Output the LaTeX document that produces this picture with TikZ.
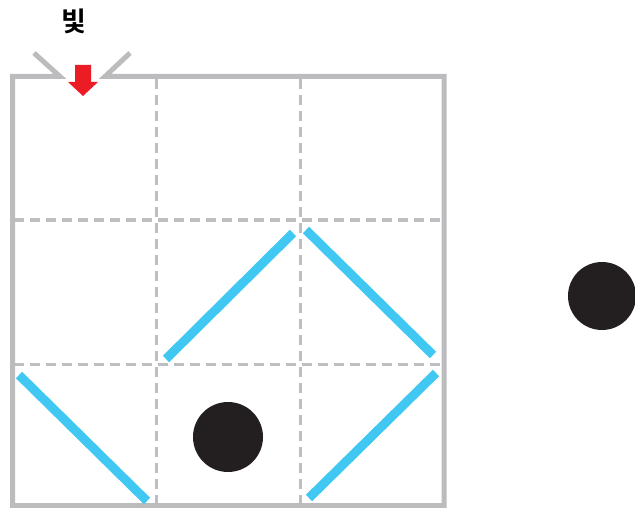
\documentclass[tikz,border=0pt]{standalone}
\usepackage{fontspec}
\newfontfamily\krfont{Noto Sans CJK KR}[BoldFont={* Bold}]
\definecolor{frame}{HTML}{BCBCBE}
\definecolor{gridc}{HTML}{BEBEC0}
\definecolor{mirror}{HTML}{40C8F2}
\definecolor{ball}{HTML}{231F20}
\definecolor{lightred}{HTML}{EC1C24}
\begin{document}
\begin{tikzpicture}[x=1pt,y=-1pt,
  framestyle/.style={draw=frame,line width=5pt,line join=miter},
  gridstyle/.style={draw=gridc,line width=3pt,dash pattern=on 10pt off 6pt},
  mirrorstyle/.style={draw=mirror,line width=9pt},
  ballstyle/.style={fill=ball}]
\useasboundingbox (0,0) rectangle (635,508);
% grid
\draw[gridstyle] (156,79) -- (156,505);
\draw[gridstyle] (300,79) -- (300,505);
\draw[gridstyle] (14,220) -- (442,220);
\draw[gridstyle] (14,364) -- (442,364);
% frame
\draw[framestyle] (34,53) -- (60,76.5) -- (12.5,76.5) -- (12.5,505.5) -- (444,505.5) -- (444,76.5) -- (105,76.5) -- (130,53);
% label and arrow
\node[font=\krfont\bfseries\fontsize{27}{32}\selectfont] (light) at (74,21) {빛};
\fill[lightred] (75,65) -- (91,65) -- (91,82) -- (98,82) -- (83,96) -- (68,82) -- (75,82) -- cycle;
% mirrors
\draw[mirrorstyle] (166,359) -- (293,233);
\draw[mirrorstyle] (306,230) -- (433,355);
\draw[mirrorstyle] (19,375) -- (147,501);
\draw[mirrorstyle] (309,498) -- (436,373);
% balls
\fill[ballstyle] (228,437) circle (35);
\fill[ballstyle] (602,296) circle (34);
\end{tikzpicture}
\end{document}
